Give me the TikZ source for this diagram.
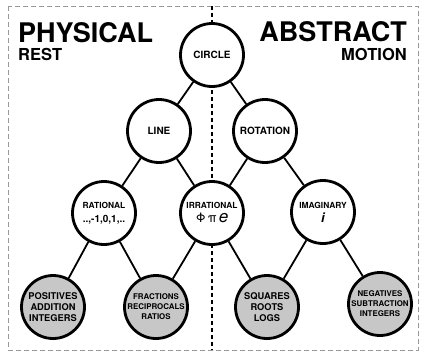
\documentclass[tikz,border=0pt]{standalone}
\usepackage{fontspec}
\setmainfont{TeX Gyre Heros}
\usetikzlibrary{positioning}

\begin{document}
\begin{tikzpicture}[
  x=1pt,y=-1pt,
  ball/.style={circle, draw=black, line width=2.8pt, fill=white, minimum size=63pt, inner sep=0pt, align=center, font=\bfseries\fontsize{10}{12}\selectfont},
  leaf/.style={ball, fill=black!22, font=\bfseries\fontsize{9.3}{11}\selectfont},
  small/.style={font=\bfseries\fontsize{7.9}{10}\selectfont},
  edge/.style={draw=black, line width=1.8pt},
  divider/.style={draw=black, line width=2.6pt, dash pattern=on 4pt off 3pt},
  frame/.style={draw=black!40, line width=0.9pt, dash pattern=on 5pt off 3pt},
  title/.style={font=\bfseries\fontsize{27}{27}\selectfont, inner sep=0pt},
  sub/.style={font=\bfseries\fontsize{16.5}{16.5}\selectfont, inner sep=0pt}
]
  \useasboundingbox (0,0) rectangle (425,357);
  \draw[frame] (8,6) rectangle (418,350);
  \draw[divider] (212,6) -- (212,350);

  \node[title, anchor=base west] (phys) at (18,42) {PHYSICAL};
  \node[sub, anchor=base west] (rest) at (18,60) {REST};
  \node[title, anchor=base east] (abs) at (407,41) {ABSTRACT};
  \node[sub, anchor=base east] (motion) at (407,60) {MOTION};

  \node[ball] (circ) at (212,55) {CIRCLE};

  \node[ball] (line) at (159,131) {LINE};
  \node[ball] (rot) at (265,131) {ROTATION};

  \node[ball, font=\bfseries\fontsize{8.4}{14}\selectfont] (rat) at (104,213) {RATIONAL\\{\fontsize{10}{12}\selectfont ..,-1,0,1,..}};
  \node[ball, font=\bfseries\fontsize{8.4}{14}\selectfont] (irr) at (212,213) {IRRATIONAL\\{\mdseries\fontsize{13}{14}\selectfont Φ\,π\,{\fontsize{17}{14}\selectfont\itshape e}}};
  \node[ball, font=\bfseries\fontsize{8.4}{14}\selectfont] (imag) at (323,212) {IMAGINARY\\{\fontsize{13}{14}\selectfont\itshape i}};

  \node[leaf] (pos) at (53,307) {POSITIVES\\ADDITION\\INTEGERS};
  \node[leaf, small] (frac) at (156,307) {FRACTIONS\\RECIPROCALS\\RATIOS};
  \node[leaf] (sq) at (267,307) {SQUARES\\ROOTS\\LOGS};
  \node[leaf, small] (neg) at (380,304) {NEGATIVES\\SUBTRACTION\\INTEGERS};

  \draw[edge] (circ) -- (line);
  \draw[edge] (circ) -- (rot);
  \draw[edge] (line) -- (rat);
  \draw[edge] (line) -- (irr);
  \draw[edge] (rot) -- (irr);
  \draw[edge] (rot) -- (imag);
  \draw[edge] (rat) -- (pos);
  \draw[edge] (rat) -- (frac);
  \draw[edge] (irr) -- (frac);
  \draw[edge] (irr) -- (sq);
  \draw[edge] (imag) -- (sq);
  \draw[edge] (imag) -- (neg);
\end{tikzpicture}
\end{document}
